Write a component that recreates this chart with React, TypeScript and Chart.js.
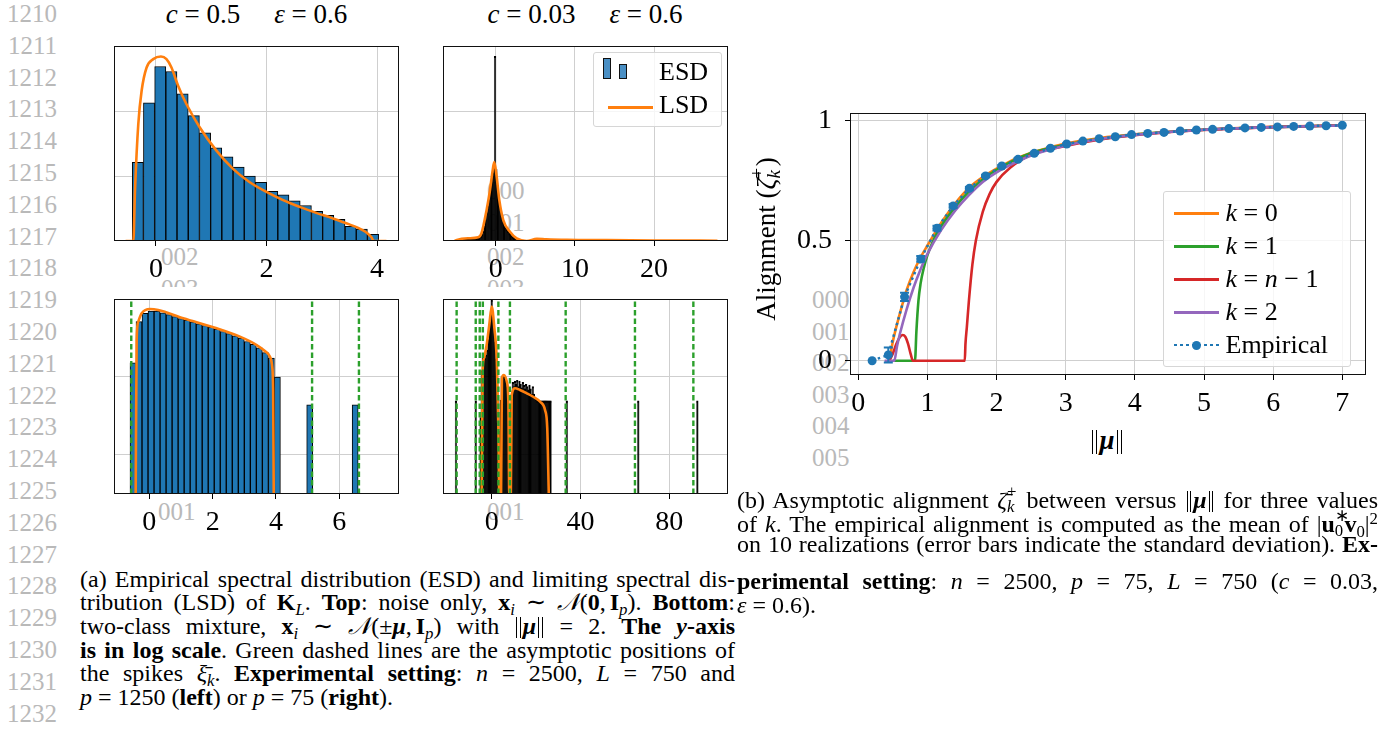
import React, { useEffect, useLayoutEffect, useRef } from "react";
import { Chart, registerables } from "chart.js";

Chart.register(...registerables);

const SERIF = "'Liberation Serif', 'Times New Roman', serif";
const C_BLUE = "#1f77b4";
const C_ORANGE = "#ff7f0e";
const C_GREEN = "#2ca02c";
const C_RED = "#d62728";
const C_PURPLE = "#9467bd";
const GRID = "#cfcfcf";
const GRAY_TXT = "#b9b9b9";
const TICK_SIZE = 28;

// ---------------- (a) top-left : c = 0.5, noise only ----------------
const tlBinCenters = [-0.329, -0.126, 0.077, 0.279, 0.482, 0.685, 0.888, 1.090, 1.293, 1.496, 1.698, 1.901, 2.104, 2.306, 2.509, 2.712, 2.915, 3.117, 3.320, 3.523, 3.725, 3.928];
const tlDensity = [0.0162, 0.133, 0.484, 0.405, 0.183, 0.0851, 0.0462, 0.0272, 0.0198, 0.0137, 0.0100, 0.00801, 0.00583, 0.00512, 0.00414, 0.00352, 0.00285, 0.00248, 0.00215, 0.00168, 0.00153, 0.00127];
const tlLsdX = [-0.55, -0.41, -0.38, -0.32, -0.26, -0.17, -0.05, 0.09, 0.19, 0.28, 0.40, 0.55, 0.79, 1.09, 1.39, 1.69, 2.0, 2.3, 2.6, 2.9, 3.2, 3.5, 3.74, 3.83, 3.9, 3.94, 4.17];
const tlLsdY = [0.001, 0.001, 0.00604, 0.0634, 0.205, 0.467, 0.628, 0.689, 0.628, 0.467, 0.245, 0.128, 0.0563, 0.0248, 0.0130, 0.00809, 0.00569, 0.00425, 0.00335, 0.00271, 0.00223, 0.00180, 0.00147, 0.00131, 0.00114, 0.001, 0.001];
const tlXTicks = [0, 2, 4];

// ---------------- (a) top-right : c = 0.03, noise only ----------------
const trBinCenters = [
  -5.025, -4.875, -4.725, -4.575, -4.425, -4.275, -4.125, -3.975, -3.825, -3.675, -3.525, -3.375, -3.225, -3.075,
  -2.925, -2.775, -2.625, -2.475, -2.325, -2.175, -2.025, -1.875, -1.725, -1.575, -1.425, -1.275, -1.125, -0.975,
  -0.825, -0.675, -0.525, -0.375, -0.225, -0.075, 0.075, 0.225, 0.375, 0.525, 0.675, 0.825, 0.975, 1.125, 1.275,
  1.425, 1.575, 1.725, 1.875, 2.025, 2.175, 2.325, 2.475, 2.625,
];
const trDensity = [
  0.00102, 0.00103, 0.00103, 0.00104, 0.00104, 0.00105, 0.00105, 0.00106, 0.00106, 0.00107, 0.00107, 0.00108, 0.00108, 0.00109,
  0.00109, 0.0011, 0.0011, 0.00111, 0.00112, 0.00113, 0.00115, 0.00118, 0.00125, 0.0014, 0.0017, 0.0021, 0.0027, 0.0034,
  0.0043, 0.0058, 0.0078, 0.011, 0.014, 0.689, 0.0125, 0.0072, 0.0048, 0.0036, 0.0029, 0.0023, 0.0019, 0.0017, 0.0016,
  0.0015, 0.0014, 0.0013, 0.00125, 0.0012, 0.00115, 0.0011, 0.00107, 0.00104,
];
const trLsdX = [-5.2, -4.9, -3.5, -2.2, -1.8, -1.15, -0.72, -0.38, -0.18, 0.13, 0.46, 0.96, 1.8, 2.65, 3.9, 5.2, 6.4, 9, 14, 20, 28];
const trLsdY = [0.001, 0.00104, 0.0011, 0.00114, 0.00131, 0.00298, 0.00604, 0.01222, 0.01638, 0.00966, 0.00425, 0.0021, 0.00139, 0.0011, 0.001, 0.00108, 0.00106, 0.00104, 0.00103, 0.00102, 0.00101];
const trXTicks = [0, 10, 20];

// ---------------- (a) bottom-left : c = 0.5, mixture ----------------
const blBinCenters = [-0.515, -0.325, -0.135, 0.055, 0.245, 0.435, 0.625, 0.815, 1.005, 1.195, 1.385, 1.575, 1.765, 1.955, 2.145, 2.335, 2.525, 2.715, 2.905, 3.095, 3.285, 3.475, 3.665, 3.855, 4.045, 5.065, 6.5];
const blDensity = [0.152, 0.512, 0.656, 0.70, 0.70, 0.665, 0.63, 0.595, 0.56, 0.535, 0.508, 0.482, 0.457, 0.433, 0.41, 0.383, 0.36, 0.337, 0.315, 0.285, 0.262, 0.236, 0.205, 0.175, 0.100, 0.0438, 0.0438];
const blLsdX = [-0.43, -0.40, -0.35, -0.24, 0.02, 0.28, 1.07, 2.13, 2.86, 3.39, 3.65, 3.81, 3.88, 3.91, 3.93];
const blLsdY = [0.00316, 0.298, 0.512, 0.656, 0.745, 0.723, 0.566, 0.421, 0.329, 0.257, 0.215, 0.182, 0.136, 0.0681, 0.00316];
const blSpikes = [-0.57, 5.14, 6.62];
const blXTicks = [0, 2, 4, 6];

// ---------------- (a) bottom-right : c = 0.03, mixture ----------------
const brBinCenters = [
  -16.1, -7.2,
  -5.0, -4.5, -4.0, -3.5, -3.0, -2.5, -2.0, -1.5, -1.0, -0.5, 0.0, 0.5, 1.0, 1.5, 2.0, 2.5, 3.0, 3.5, 4.0, 4.5,
  5.0, 5.5, 6.0, 6.5, 7.0, 7.5, 8.0, 8.5, 9.0, 9.5, 10.0, 10.5, 11.0, 11.5, 12.0, 12.5, 13.0, 13.5, 14.0, 14.5,
  15.0, 15.5, 16.0, 16.5, 17.0, 17.5, 18.0, 18.5, 19.0, 19.5, 20.0, 20.5, 21.0, 21.5, 22.0, 22.5, 23.0, 23.5,
  24.0, 24.5, 25.0, 25.5, 26.0, 26.5,
  33.8, 66.0, 92.6,
];
const brDensity = [
  0.049, 0.049,
  0.03, 0.12, 0.175, 0.18, 0.175, 0.19, 0.22, 0.3, 0.42, 0.6, 0.97, 0.6, 0.42, 0.28, 0.17, 0.09, 0.035, 0.02, 0.05, 0.1,
  0.105, 0.1, 0.095, 0.09, 0.075, 0.045, 0.03, 0.04, 0.06, 0.085, 0.075, 0.088, 0.08, 0.09, 0.075, 0.088, 0.08, 0.072, 0.085, 0.078,
  0.07, 0.08, 0.075, 0.068, 0.078, 0.07, 0.06, 0.075, 0.06, 0.055, 0.052, 0.049, 0.049, 0.049, 0.049, 0.049, 0.049, 0.049,
  0.049, 0.049, 0.049, 0.049, 0.049, 0.049,
  0.049, 0.049, 0.049,
];
const brLsdX = [-4.5, -4.1, -3.5, -2.3, -1.1, 0, 1.2, 2.3, 3.0, 3.4, 4.2, 4.6, 5.5, 6.8, 7.5, 7.9, 8.6, 9.0, 10.5, 12.7, 15.8, 18.7, 21.8, 24, 25, 25.7];
const brLsdY = [0.00316, 0.117, 0.174, 0.257, 0.465, 0.80, 0.421, 0.157, 0.0222, 0.00316, 0.00316, 0.0962, 0.106, 0.0871, 0.0482, 0.00316, 0.00316, 0.0587, 0.0716, 0.0681, 0.0618, 0.0558, 0.0482, 0.0378, 0.0222, 0.00316];
const brSpikes = [-15.8, -7.2, -5.4, -4.0, 3.0, 8.2, 33.3, 64.5, 90.8];
const brXTicks = [0, 40, 80];

const topYGrid = [0.01, 0.1];
const bottomYGrid = [0.01, 0.1];

// ---------------- (b) alignment vs ||mu|| ----------------
const k0X = [0.45, 0.5, 0.6, 0.7, 0.8, 0.9, 1.0, 1.2, 1.4, 1.6, 1.8, 2.0, 2.3, 2.6, 3.0, 3.5, 4.0, 4.5, 5.0, 5.5, 6.0, 6.5, 7.0];
const k0Y = [0, 0.08, 0.195, 0.295, 0.37, 0.43, 0.48, 0.575, 0.655, 0.72, 0.765, 0.80, 0.845, 0.875, 0.905, 0.928, 0.943, 0.954, 0.963, 0.969, 0.974, 0.978, 0.981];
const k1X = [0.5, 0.82, 0.84, 0.87, 0.9, 0.95, 1.0, 1.1, 1.2, 1.4, 1.6, 1.8, 2.0, 2.5, 3.0, 4.0, 5.0, 6.0, 7.0];
const k1Y = [0, 0, 0.12, 0.25, 0.32, 0.39, 0.44, 0.51, 0.56, 0.64, 0.705, 0.755, 0.795, 0.865, 0.9, 0.942, 0.962, 0.973, 0.98];
const knX = [0.45, 0.5, 0.55, 0.6, 0.64, 0.68, 0.72, 0.76, 0.79, 1.54, 1.55, 1.57, 1.6, 1.65, 1.7, 1.8, 1.9, 2.0, 2.2, 2.5, 3.0, 3.5, 4.0, 5.0, 6.0, 7.0];
const knY = [0, 0.03, 0.07, 0.098, 0.107, 0.1, 0.07, 0.025, 0, 0, 0.07, 0.14, 0.25, 0.40, 0.50, 0.62, 0.695, 0.745, 0.805, 0.858, 0.895, 0.922, 0.94, 0.961, 0.973, 0.98];
const k2X = [0.38, 0.52, 0.56, 0.6, 0.7, 0.8, 0.9, 1.0, 1.2, 1.4, 1.6, 1.8, 2.0, 2.3, 2.6, 3.0, 3.5, 4.0, 5.0, 6.0, 7.0];
const k2Y = [0, 0, 0.06, 0.11, 0.215, 0.305, 0.38, 0.445, 0.545, 0.625, 0.69, 0.745, 0.785, 0.83, 0.865, 0.897, 0.924, 0.941, 0.962, 0.973, 0.98];
const empX = [0.2, 0.434, 0.669, 0.903, 1.138, 1.372, 1.607, 1.841, 2.076, 2.31, 2.545, 2.779, 3.014, 3.248, 3.483, 3.717, 3.952, 4.186, 4.421, 4.655, 4.89, 5.124, 5.359, 5.593, 5.828, 6.062, 6.297, 6.531, 6.766, 7.0];
const empY = [0, 0.024, 0.266, 0.424, 0.552, 0.645, 0.718, 0.770, 0.811, 0.839, 0.864, 0.885, 0.903, 0.915, 0.925, 0.933, 0.942, 0.947, 0.951, 0.957, 0.961, 0.964, 0.967, 0.970, 0.972, 0.974, 0.976, 0.978, 0.979, 0.981];
const empStd = [0, 0.031, 0.017, 0.012, 0.01, 0.008, 0.006, 0.005, 0.004, 0.004, 0.003, 0.003, 0.003, 0.002, 0.002, 0.002, 0.002, 0.002, 0.002, 0.002, 0.001, 0.001, 0.001, 0.001, 0.001, 0.001, 0.001, 0.001, 0.001, 0.001];
const rightXTicks = [0, 1, 2, 3, 4, 5, 6, 7];
const rightYTicks = [0, 0.5, 1];
const rightYTickLabels = ["0", "0.5", "1"];

const legendA = ["ESD", "LSD"];
const legendB = ["k = 0", "k = 1", "k = n − 1", "k = 2", "Empirical"];

const xy = (xs: number[], ys: number[]) => xs.map((x, i) => ({ x, y: ys[i] }));

const framePlugin = {
  id: "frame",
  afterDatasetsDraw(chart: any) {
    const { ctx, chartArea: a } = chart;
    ctx.save();
    ctx.strokeStyle = "#111";
    ctx.lineWidth = 1;
    ctx.strokeRect(Math.round(a.left) + 0.5, Math.round(a.top) + 0.5, Math.round(a.right - a.left) - 1, Math.round(a.bottom - a.top) - 1);
    ctx.restore();
  },
};

const errorBarPlugin = {
  id: "errbars",
  afterDatasetsDraw(chart: any) {
    const { ctx, scales } = chart;
    const sx = scales.x, sy = scales.y;
    ctx.save();
    ctx.strokeStyle = C_BLUE;
    ctx.lineWidth = 2;
    empX.forEach((x, i) => {
      const s = empStd[i];
      if (s < 0.0025) return;
      const px = sx.getPixelForValue(x);
      const y1 = sy.getPixelForValue(empY[i] - s);
      const y2 = sy.getPixelForValue(empY[i] + s);
      ctx.beginPath();
      ctx.moveTo(px, y1); ctx.lineTo(px, y2);
      ctx.moveTo(px - 4.5, y1); ctx.lineTo(px + 4.5, y1);
      ctx.moveTo(px - 4.5, y2); ctx.lineTo(px + 4.5, y2);
      ctx.stroke();
    });
    ctx.restore();
  },
};

type Pad = { l: number; t: number; r: number; b: number };

function histConfig(o: {
  binX: number[]; dens: number[]; lsdX: number[]; lsdY: number[]; spikes: number[]; fill: string; inflate: number;
  xMin: number; xMax: number; xTicks: number[]; yMin: number; yMax: number; yGrid: number[]; pad: Pad;
}) {
  const datasets: any[] = [
    {
      type: "bar", data: xy(o.binX, o.dens), backgroundColor: o.fill, borderColor: "#000", borderWidth: 1,
      barPercentage: 1, categoryPercentage: 1, borderSkipped: "start", order: 3, inflateAmount: o.inflate,
    },
    {
      type: "line", data: xy(o.lsdX, o.lsdY), borderColor: C_ORANGE, borderWidth: 2.6, pointRadius: 0,
      cubicInterpolationMode: "monotone", fill: false, order: 2,
    },
    ...o.spikes.map((s) => ({
      type: "line", data: [{ x: s, y: o.yMin }, { x: s, y: o.yMax }], borderColor: C_GREEN, borderWidth: 2.4,
      borderDash: [5.5, 3], pointRadius: 0, fill: false, order: 1,
    })),
  ];
  return {
    type: "bar",
    data: { datasets },
    options: {
      animation: false, responsive: false, maintainAspectRatio: false, devicePixelRatio: 1,
      layout: { padding: { left: o.pad.l, top: o.pad.t, right: o.pad.r, bottom: 0 } },
      plugins: { legend: { display: false }, tooltip: { enabled: false } },
      scales: {
        x: {
          type: "linear", min: o.xMin, max: o.xMax, offset: false,
          grid: { offset: false, color: GRID, lineWidth: 1, tickColor: "#000", tickLength: 5, drawTicks: true },
          border: { display: false },
          ticks: { color: "#000", font: { family: SERIF, size: TICK_SIZE }, padding: 7, maxRotation: 0, autoSkip: false, callback: (v: any) => String(v) },
          afterBuildTicks: (s: any) => { s.ticks = o.xTicks.map((v) => ({ value: v })); },
          afterFit: (s: any) => { s.height = o.pad.b; },
        },
        y: {
          type: "logarithmic", min: o.yMin, max: o.yMax,
          grid: { color: GRID, lineWidth: 1, drawTicks: false },
          border: { display: false },
          ticks: { display: false },
          afterBuildTicks: (s: any) => { s.ticks = o.yGrid.map((v) => ({ value: v })); },
          afterFit: (s: any) => { s.width = 0; },
        },
      },
    },
    plugins: [framePlugin],
  };
}

function rightConfig(pad: Pad) {
  const ln = (xs: number[], ys: number[], color: string, order: number) => ({
    data: xy(xs, ys), borderColor: color, borderWidth: 2.6, pointRadius: 0, fill: false,
    cubicInterpolationMode: "monotone", order,
  });
  return {
    type: "line",
    data: {
      datasets: [
        ln(k0X, k0Y, C_ORANGE, 5),
        ln(k1X, k1Y, C_GREEN, 4),
        ln(knX, knY, C_RED, 3),
        ln(k2X, k2Y, C_PURPLE, 2),
        {
          data: xy(empX, empY), borderColor: C_BLUE, borderWidth: 2.5, borderDash: [2.5, 3.5],
          pointRadius: 4.5, pointBackgroundColor: C_BLUE, pointBorderWidth: 0, fill: false, order: 1, tension: 0,
        },
      ],
    },
    options: {
      animation: false, responsive: false, maintainAspectRatio: false, devicePixelRatio: 1,
      layout: { padding: { left: 0, top: pad.t, right: pad.r, bottom: 0 } },
      plugins: { legend: { display: false }, tooltip: { enabled: false } },
      scales: {
        x: {
          type: "linear", min: -0.12, max: 7.343,
          grid: { color: GRID, lineWidth: 1, tickColor: "#000", tickLength: 5 },
          border: { display: false },
          ticks: { color: "#000", font: { family: SERIF, size: TICK_SIZE }, padding: 7, maxRotation: 0, autoSkip: false, callback: (v: any) => String(v) },
          afterBuildTicks: (s: any) => { s.ticks = rightXTicks.map((v) => ({ value: v })); },
          afterFit: (s: any) => { s.height = pad.b; },
        },
        y: {
          type: "linear", min: -0.0596, max: 1.032,
          grid: { color: GRID, lineWidth: 1, tickColor: "#000", tickLength: 5 },
          border: { display: false },
          ticks: { color: "#000", font: { family: SERIF, size: TICK_SIZE }, padding: 13, autoSkip: false, callback: (_v: any, i: number) => rightYTickLabels[i] },
          afterBuildTicks: (s: any) => { s.ticks = rightYTicks.map((v) => ({ value: v })); },
          afterFit: (s: any) => { s.width = pad.l; },
        },
      },
    },
    plugins: [framePlugin, errorBarPlugin],
  };
}

function ChartBox({ box, pad, make }: { box: [number, number, number, number]; pad: Pad; make: () => any }) {
  const ref = useRef<HTMLCanvasElement>(null);
  const [l, t, r, b] = box;
  const w = r - l + pad.l + pad.r;
  const h = b - t + pad.t + pad.b;
  useEffect(() => {
    const c = new Chart(ref.current as HTMLCanvasElement, make());
    return () => c.destroy();
  }, []);
  return (
    <canvas ref={ref} width={w} height={h}
      style={{ position: "absolute", left: l - pad.l, top: t - pad.t, width: w, height: h }} />
  );
}

const I = ({ children }: any) => <i>{children}</i>;
const B = ({ children }: any) => <b>{children}</b>;
const Sub = ({ children }: any) => (
  <span style={{ fontSize: "0.7em", verticalAlign: "-0.3em", lineHeight: 0 }}>{children}</span>
);
const Sup = ({ children }: any) => (
  <span style={{ fontSize: "0.7em", verticalAlign: "0.45em", lineHeight: 0 }}>{children}</span>
);
// stacked super/subscript
const SS = ({ sub, sup, w = 0.45 }: any) => (
  <span style={{ display: "inline-block", position: "relative", width: `${w}em`, height: "1em", verticalAlign: "baseline" }}>
    <span style={{ position: "absolute", left: 0, top: "0em", fontSize: "0.7em", lineHeight: 1 }}>{sup}</span>
    <span style={{ position: "absolute", left: 0, top: "0.9em", fontSize: "0.7em", lineHeight: 1 }}>{sub}</span>
  </span>
);
const Eq = ({ s = "=" }: any) => <span style={{ margin: "0 0.25em" }}>{s}</span>;
const Mu = () => <b><i>μ</i></b>;
// double vertical bar of a norm
const Bar2 = () => (
  <span style={{
    display: "inline-block", width: "0.11em", height: "0.9em", borderLeft: "1px solid #000", borderRight: "1px solid #000",
    verticalAlign: "-0.18em", margin: "0 0.08em",
  }} />
);
const Norm = () => <span><Bar2 /><Mu /><Bar2 /></span>;

function Txt({ x, y, size = 25, color = "#000", align = "left", w = 300, children, style }: any) {
  const left = align === "center" ? x - w / 2 : align === "right" ? x - w : x;
  return (
    <div style={{
      position: "absolute", left, top: y - size * 0.52, width: w, fontSize: size, lineHeight: `${size}px`,
      color, textAlign: align, whiteSpace: "nowrap", fontFamily: SERIF, ...style,
    }}>{children}</div>
  );
}

const CAP = 24;

// justified single caption line: stretches word spacing to fill the given width
function JLine({ x, y, w, size = CAP, justify = true, children }: any) {
  const ref = useRef<HTMLSpanElement>(null);
  useLayoutEffect(() => {
    const el = ref.current;
    if (!el || !justify) return;
    el.style.wordSpacing = "0px";
    const nat = el.getBoundingClientRect().width;
    const spaces = ((el.textContent || "").match(/ /g) || []).length;
    if (spaces > 0) el.style.wordSpacing = `${(w - nat) / spaces}px`;
  }, []);
  return (
    <div style={{
      position: "absolute", left: x, top: y - size * 0.55, width: w + 40, fontSize: size, lineHeight: `${size}px`,
      whiteSpace: "nowrap", fontFamily: SERIF, color: "#000",
    }}><span ref={ref}>{children}</span></div>
  );
}

export default function App() {
  const lineNos: number[] = [];
  for (let n = 1210; n <= 1232; n++) lineNos.push(n);
  const padH: Pad = { l: 12, t: 10, r: 16, b: 45 };
  const padR: Pad = { l: 80, t: 34, r: 16, b: 45 };
  const legendRowsY = [22.3, 55, 88.3, 121, 153.6];
  const legendColors = [C_ORANGE, C_GREEN, C_RED, C_PURPLE];
  return (
    <div style={{ position: "absolute", left: 0, top: 0, width: 1383, height: 732, background: "#fff", overflow: "hidden", fontFamily: SERIF }}>
      {/* line numbers */}
      {lineNos.map((n, i) => (
        <Txt key={n} x={57} y={14 + i * 31.8} align="right" w={80} size={25} color={GRAY_TXT}>{n}</Txt>
      ))}
      {/* gray artifact numbers (under the figure) */}
      <Txt x={161} y={257} size={25} color={GRAY_TXT}>002</Txt>
      <div style={{ position: "absolute", left: 150, top: 270, width: 60, height: 17, overflow: "hidden" }}>
        <Txt x={11} y={19} size={25} color={GRAY_TXT}>003</Txt>
      </div>
      <Txt x={487} y={191} size={25} color={GRAY_TXT}>000</Txt>
      <Txt x={487} y={223} size={25} color={GRAY_TXT}>001</Txt>
      <Txt x={487} y={257} size={25} color={GRAY_TXT}>002</Txt>
      <div style={{ position: "absolute", left: 480, top: 270, width: 60, height: 17, overflow: "hidden" }}>
        <Txt x={7} y={19} size={25} color={GRAY_TXT}>003</Txt>
      </div>
      <Txt x={158} y={512} size={25} color={GRAY_TXT}>001</Txt>
      <Txt x={487} y={512} size={25} color={GRAY_TXT}>001</Txt>
      {["000", "001", "002", "003", "004", "005"].map((s, i) => (
        <Txt key={s} x={812} y={300 + i * 31.6} size={25} color={GRAY_TXT}>{s}</Txt>
      ))}

      {/* titles */}
      <Txt x={256.5} y={15} align="center" w={300} size={27}>
        <I>c</I><Eq />0.5<span style={{ marginLeft: 34 }}><I>ε</I></span><Eq />0.6
      </Txt>
      <Txt x={585} y={15} align="center" w={300} size={27}>
        <I>c</I><Eq />0.03<span style={{ marginLeft: 34 }}><I>ε</I></span><Eq />0.6
      </Txt>

      {/* charts */}
      <ChartBox box={[114, 46, 399, 241]} pad={padH} make={() => histConfig({
        binX: tlBinCenters, dens: tlDensity, lsdX: tlLsdX, lsdY: tlLsdY, spikes: [], fill: C_BLUE, inflate: 0.33,
        xMin: -0.76, xMax: 4.398, xTicks: tlXTicks, yMin: 0.001, yMax: 1, yGrid: topYGrid, pad: padH,
      })} />
      <ChartBox box={[443, 46, 728, 241]} pad={padH} make={() => histConfig({
        binX: trBinCenters, dens: trDensity, lsdX: trLsdX, lsdY: trLsdY, spikes: [], fill: "#000", inflate: 0.6,
        xMin: -6.65, xMax: 29.33, xTicks: trXTicks, yMin: 0.001, yMax: 1, yGrid: topYGrid, pad: padH,
      })} />
      <ChartBox box={[114, 299, 399, 494]} pad={padH} make={() => histConfig({
        binX: blBinCenters, dens: blDensity, lsdX: blLsdX, lsdY: blLsdY, spikes: blSpikes, fill: C_BLUE, inflate: 0.33,
        xMin: -1.115, xMax: 7.885, xTicks: blXTicks, yMin: 0.00316, yMax: 1, yGrid: bottomYGrid, pad: padH,
      })} />
      <ChartBox box={[443, 299, 728, 494]} pad={padH} make={() => histConfig({
        binX: brBinCenters, dens: brDensity, lsdX: brLsdX, lsdY: brLsdY, spikes: brSpikes, fill: "#000", inflate: 0.6,
        xMin: -21.94, xMax: 106.4, xTicks: brXTicks, yMin: 0.00316, yMax: 1, yGrid: bottomYGrid, pad: padH,
      })} />
      <ChartBox box={[850, 113, 1366, 375]} pad={padR} make={() => rightConfig(padR)} />

      {/* legend (a) */}
      <div style={{
        position: "absolute", left: 593, top: 52, width: 129, height: 75, boxSizing: "border-box",
        border: "1px solid #d6d6d6", borderRadius: 3, background: "rgba(255,255,255,0.8)",
      }}>
        <div style={{ position: "absolute", left: 9, top: 5, width: 8, height: 21, boxSizing: "border-box", background: "#4a8fc4", border: "1px solid #111" }} />
        <div style={{ position: "absolute", left: 25, top: 10.5, width: 8, height: 15.5, boxSizing: "border-box", background: "#4a8fc4", border: "1px solid #111" }} />
        <div style={{ position: "absolute", left: 13.5, top: 52.5, width: 45, height: 3, background: C_ORANGE }} />
        <Txt x={65} y={19.5} size={26}>{legendA[0]}</Txt>
        <Txt x={65} y={53} size={26}>{legendA[1]}</Txt>
      </div>

      {/* legend (b) */}
      <div style={{
        position: "absolute", left: 1162.5, top: 190.5, width: 188, height: 176, boxSizing: "border-box",
        border: "1px solid #d6d6d6", borderRadius: 3, background: "rgba(255,255,255,0.8)",
      }}>
        {legendColors.map((c, i) => (
          <div key={c} style={{ position: "absolute", left: 10, top: legendRowsY[i] - 1.5, width: 45, height: 3, background: c }} />
        ))}
        <div style={{
          position: "absolute", left: 10, top: legendRowsY[4] - 1.25, width: 45, height: 2.5,
          background: `repeating-linear-gradient(90deg, ${C_BLUE} 0 2.5px, transparent 2.5px 6px)`,
        }} />
        <div style={{ position: "absolute", left: 28, top: legendRowsY[4] - 4.5, width: 9, height: 9, borderRadius: "50%", background: C_BLUE }} />
        <Txt x={62} y={legendRowsY[0]} size={26}><I>k</I><Eq />0</Txt>
        <Txt x={62} y={legendRowsY[1]} size={26}><I>k</I><Eq />1</Txt>
        <Txt x={62} y={legendRowsY[2]} size={26}><I>k</I><Eq /><I>n</I><Eq s="−" />1</Txt>
        <Txt x={62} y={legendRowsY[3]} size={26}><I>k</I><Eq />2</Txt>
        <Txt x={62} y={legendRowsY[4]} size={26}>{legendB[4]}</Txt>
      </div>

      {/* axis labels of (b) */}
      <div style={{
        position: "absolute", left: 763 - 120, top: 239 - 15, width: 240, height: 30, fontSize: 27, lineHeight: "30px",
        textAlign: "center", transform: "rotate(-90deg)", whiteSpace: "nowrap", fontFamily: SERIF,
      }}>
        Alignment (<i>ζ̄</i><SS sub={<i>k</i>} sup="+" />)
      </div>
      <Txt x={1107} y={441} align="center" w={100} size={27}><Norm /></Txt>

      {/* caption (a) */}
      <JLine x={80} y={580} w={655}>(a) Empirical spectral distribution (ESD) and limiting spectral dis-</JLine>
      <JLine x={80} y={603.5} w={655}>
        tribution (LSD) of <B>K</B><Sub><I>L</I></Sub>. <B>Top</B>: noise only, <B>x</B><Sub><I>i</I></Sub> ∼ <I>𝒩</I>(<B>0</B>,<span style={{ marginLeft: 4 }} /><B>I</B><Sub><I>p</I></Sub>). <B>Bottom</B>:
      </JLine>
      <JLine x={80} y={627} w={655}>
        two-class mixture, <B>x</B><Sub><I>i</I></Sub> ∼ <I>𝒩</I>(±<Mu />,<span style={{ marginLeft: 4 }} /><B>I</B><Sub><I>p</I></Sub>) with <Norm /> = 2. <B>The <I>y</I>-axis</B>
      </JLine>
      <JLine x={80} y={651} w={655}>
        <B>is in log scale</B>. Green dashed lines are the asymptotic positions of
      </JLine>
      <JLine x={80} y={674.5} w={655}>
        the spikes <I>ξ̄</I><Sub><I>k</I></Sub>. <B>Experimental setting</B>: <I>n</I> = 2500, <I>L</I> = 750 and
      </JLine>
      <JLine x={80} y={698} w={655} justify={false}>
        <I>p</I> = 1250 (<B>left</B>) or <I>p</I> = 75 (<B>right</B>).
      </JLine>

      {/* caption (b) */}
      <JLine x={737} y={497} w={641}>
        (b) Asymptotic alignment <I>ζ̄</I><SS sub={<i>k</i>} sup="+" /> between versus <Norm /> for three values
      </JLine>
      <JLine x={737} y={521} w={641}>
        of <I>k</I>. The empirical alignment is computed as the mean of |<B>u</B><SS sub="0" sup="∗" w={0.4} /><B>v</B><Sub>0</Sub>|<Sup>2</Sup>
      </JLine>
      <JLine x={737} y={545} w={641}>
        on 10 realizations (error bars indicate the standard deviation). <B>Ex-</B>
      </JLine>
      <JLine x={737} y={582} w={641}>
        <B>perimental setting</B>: <I>n</I> = 2500, <I>p</I> = 75, <I>L</I> = 750 (<I>c</I> = 0.03,
      </JLine>
      <JLine x={737} y={606} w={200} justify={false}>
        <I>ε</I> = 0.6).
      </JLine>
    </div>
  );
}
